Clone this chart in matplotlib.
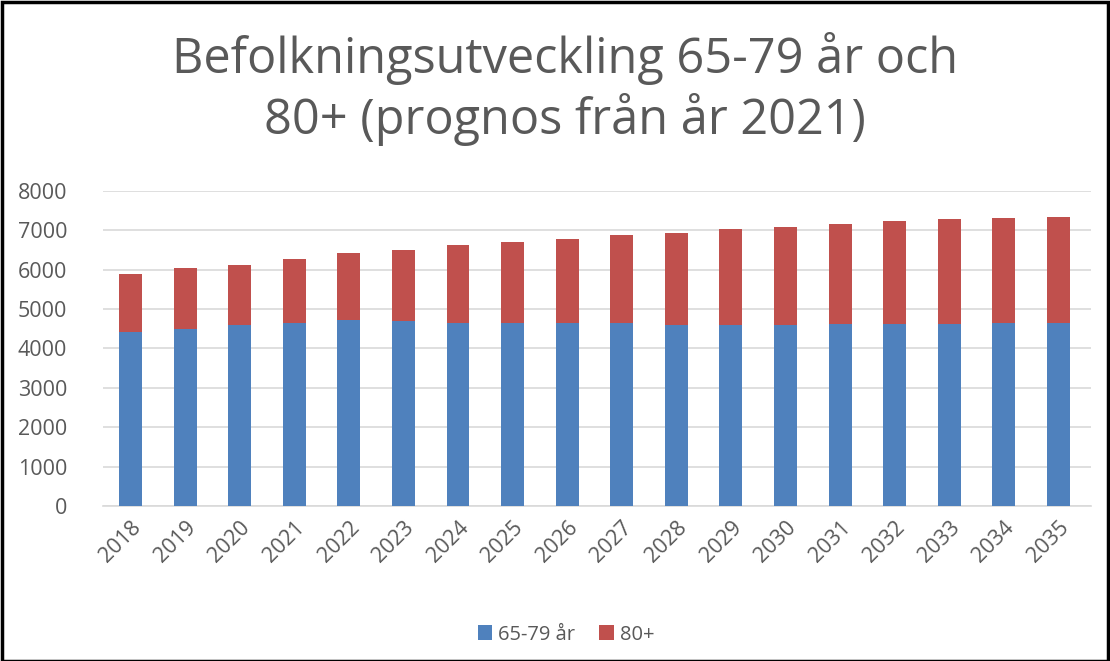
import matplotlib.pyplot as plt
from matplotlib.patches import Rectangle

years = [str(y) for y in range(2018, 2036)]
age_65_79 = [4420, 4500, 4580, 4650, 4720, 4690, 4650, 4650, 4650,
             4650, 4580, 4580, 4580, 4610, 4610, 4610, 4650, 4650]
totals = [5880, 6030, 6115, 6260, 6420, 6500, 6615, 6700, 6770,
          6880, 6920, 7040, 7075, 7160, 7225, 7270, 7300, 7345]
age_80_plus = [t - a for t, a in zip(totals, age_65_79)]

BLUE = "#4F81BD"
RED = "#C0504D"
TEXT = "#595959"

plt.rcParams["font.family"] = ["Open Sans", "DejaVu Sans"]

fig = plt.figure(figsize=(11.1, 6.61), dpi=100)
ax = fig.add_axes([0.093, 0.2345, 0.89, 0.477])

xs = range(len(years))
ax.bar(xs, age_65_79, width=0.42, color=BLUE, label="65-79 år", zorder=3)
ax.bar(xs, age_80_plus, width=0.42, bottom=age_65_79, color=RED, label="80+", zorder=3)

ax.set_ylim(0, 8000)
ax.set_xlim(-0.5, len(years) - 0.4)
ax.set_yticks(range(0, 8001, 1000))
ax.set_xticks(list(xs), years, rotation=45, ha="right", rotation_mode="anchor")
ax.tick_params(axis="y", length=0, pad=26, labelsize=15.5, labelcolor=TEXT)
ax.tick_params(axis="x", length=0, pad=8, labelsize=15.5, labelcolor=TEXT)
ax.grid(axis="y", color="#D9D9D9", linewidth=1.2, zorder=0)
for side in ["top", "right", "left"]:
    ax.spines[side].set_visible(False)
ax.spines["bottom"].set_color("#D9D9D9")
ax.spines["bottom"].set_linewidth(1.2)

fig.text(0.509, 0.865, "Befolkningsutveckling 65-79 år och\n80+ (prognos från år 2021)",
         ha="center", va="center", fontsize=35, color=TEXT, linespacing=1.2)

fig.legend(loc="center", bbox_to_anchor=(0.51, 0.04), ncol=2, frameon=False,
           fontsize=14.5, labelcolor=TEXT, handlelength=0.7, handleheight=0.8,
           handletextpad=0.3, columnspacing=1.2)

fig.patches.append(Rectangle((0.002, 0.0), 0.996, 0.997, transform=fig.transFigure,
                             fill=False, edgecolor="black", linewidth=2.5))

fig.savefig("out.png", dpi=100)
